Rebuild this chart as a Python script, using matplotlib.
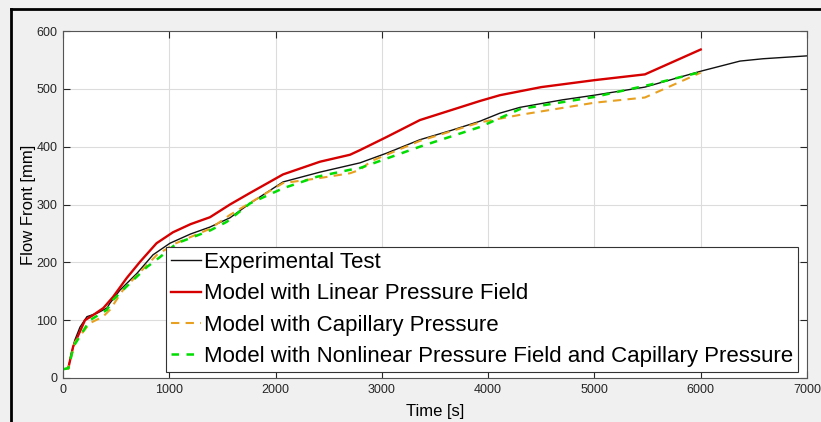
import numpy as np
import matplotlib
matplotlib.use("Agg")
import matplotlib.pyplot as plt
from matplotlib.lines import Line2D

# ── DATA ─────────────────────────────────────────────────────────────────────
exp_t = [0, 50, 70, 110, 160, 225, 320, 414, 440, 536, 696, 847, 1006, 1200,
         1383, 1571, 1760, 2070, 2418, 2700, 2794, 3048, 3358, 3650, 3923,
         4111, 4300, 4700, 5000, 5475, 6011, 6370, 6585, 7000]
exp_v = [15, 17, 35, 65, 88, 106, 112, 121, 129, 152, 181, 213, 233, 249,
         261, 277, 302, 339, 356, 368, 372, 389, 412, 428, 444,
         458, 468, 481, 489, 503, 531, 548, 552, 557]

lin_t = [50, 95, 207, 285, 380, 470, 600, 725, 880, 1035, 1200, 1383, 1571,
         1760, 2070, 2418, 2700, 2794, 3048, 3358, 3923, 4111, 4500, 5000,
         5475, 6000]
lin_v = [17, 54, 100, 109, 121, 140, 173, 201, 233, 252, 266, 278, 300,
         320, 352, 374, 386, 394, 417, 446, 479, 489, 503, 515,
         525, 568]

cap_t = [0, 50, 113, 254, 376, 442, 564, 724, 884, 1050, 1383, 1571, 2070,
         2390, 2700, 2794, 2900, 3358, 3923, 4300, 5000, 5475, 6000]
cap_v = [15, 17, 62, 95, 106, 118, 152, 183, 213, 232, 258, 282, 337,
         345, 354, 360, 375, 410, 442, 455, 476, 485, 528]

nl_t = [0, 50, 100, 254, 414, 470, 630, 790, 912, 1072, 1383, 1540, 1760,
        2070, 2390, 2700, 2794, 3358, 3923, 4300, 5000, 5520, 6000]
nl_v = [15, 17, 55, 100, 118, 135, 164, 192, 209, 233, 255, 270, 302,
        328, 348, 360, 363, 400, 434, 465, 486, 507, 529]

labels = ["Experimental Test",
          "Model with Linear Pressure Field",
          "Model with Capillary Pressure",
          "Model with Nonlinear Pressure Field and Capillary Pressure"]

x_ticks = [0, 1000, 2000, 3000, 4000, 5000, 6000, 7000]
y_ticks = [0, 100, 200, 300, 400, 500, 600]

# ── FIGURE ────────────────────────────────────────────────────────────────────
plt.rcParams["font.family"] = ["Liberation Sans", "DejaVu Sans"]

fig = plt.figure(figsize=(8.21, 4.22), dpi=100, facecolor="#f0f0f0")
ax = fig.add_axes([63 / 821, 44 / 422, 744 / 821, 347 / 422])

# window frame (left and top edge of the screenshot)
fig.add_artist(Line2D([11 / 821, 11 / 821], [0, 1 - 9 / 422],
                      color="black", lw=2, transform=fig.transFigure))
fig.add_artist(Line2D([11 / 821, 1], [1 - 9 / 422, 1 - 9 / 422],
                      color="black", lw=2, transform=fig.transFigure))

ax.plot(exp_t, exp_v, color="#111111", lw=1.0, label=labels[0])
ax.plot(lin_t, lin_v, color="#d60000", lw=1.7, label=labels[1])
ax.plot(cap_t, cap_v, color="#e8a020", lw=1.5, ls=(0, (4, 3)), label=labels[2])
ax.plot(nl_t, nl_v, color="#00dd00", lw=1.8, ls=(0, (3, 3)), label=labels[3])

ax.set_xlim(0, 7000)
ax.set_ylim(0, 600)
ax.set_xticks(x_ticks)
ax.set_yticks(y_ticks)
ax.tick_params(direction="in", length=5, width=0.8, top=True, right=True,
               labelsize=9, colors="#262626", pad=4)
ax.grid(True, color="#dcdcdc", lw=0.8)
for s in ax.spines.values():
    s.set_color("#555555")
    s.set_linewidth(0.8)

ax.set_xlabel("Time [s]", fontsize=12, labelpad=6)
ax.set_ylabel("Flow Front [mm]", fontsize=12, labelpad=0)

leg = ax.legend(loc="lower right", bbox_to_anchor=(0.988, 0.017),
                borderaxespad=0, fontsize=16, handlelength=1.35,
                handletextpad=0.15, labelspacing=0.47, borderpad=0.22,
                fancybox=False, framealpha=1, edgecolor="#333333")
leg.get_frame().set_linewidth(0.8)

fig.savefig("out.png", dpi=100, facecolor=fig.get_facecolor())
